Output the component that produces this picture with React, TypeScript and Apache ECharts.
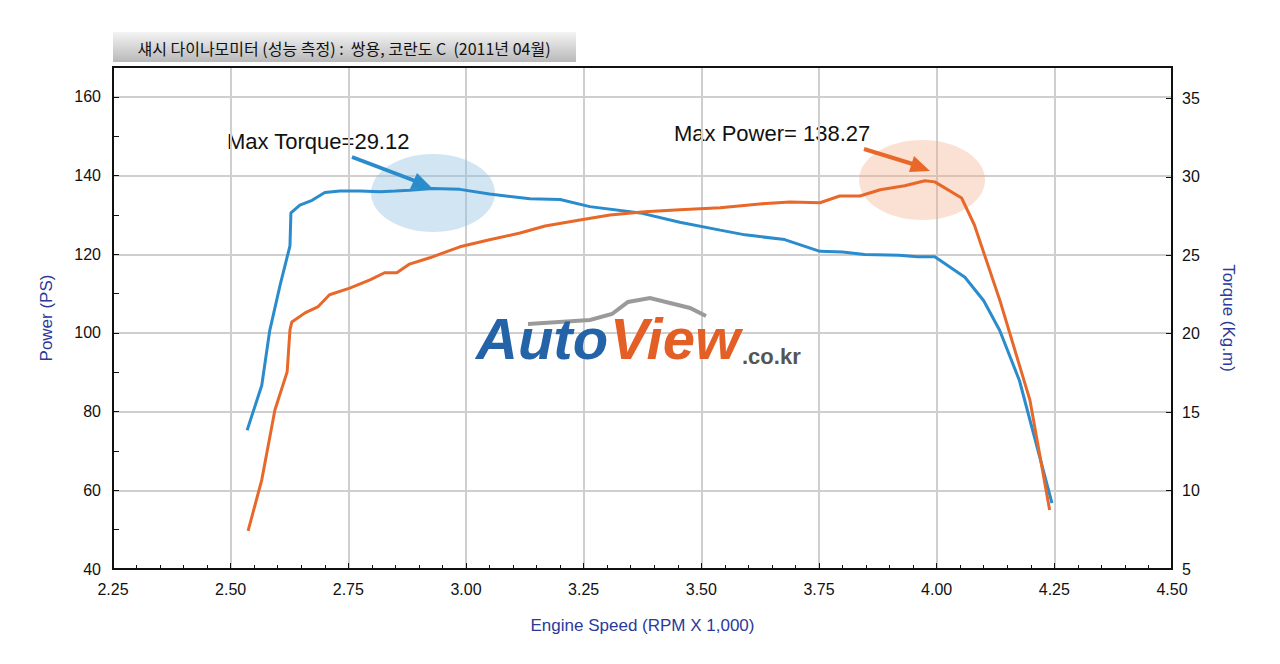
import React, { useEffect, useRef } from "react";
import * as echarts from "echarts";

const torqueRpm = [2.535,2.566,2.583,2.605,2.626,2.628,2.647,2.673,2.70,2.732,2.775,2.817,2.85,2.88,2.928,2.987,3.05,3.136,3.2,3.263,3.37,3.454,3.54,3.593,3.677,3.752,3.80,3.847,3.92,3.96,3.996,4.06,4.10,4.134,4.176,4.245];
const torqueVal = [13.85,16.7,20.2,23.1,25.6,27.7,28.2,28.5,29.0,29.1,29.1,29.05,29.1,29.15,29.25,29.2,28.9,28.6,28.55,28.1,27.7,27.1,26.6,26.3,26.0,25.25,25.2,25.05,25.0,24.9,24.9,23.6,22.1,20.2,17.0,9.2];
const powerRpm = [2.537,2.566,2.594,2.62,2.626,2.63,2.658,2.685,2.71,2.753,2.796,2.827,2.853,2.88,2.923,2.987,3.05,3.115,3.168,3.242,3.306,3.38,3.454,3.54,3.624,3.688,3.752,3.794,3.837,3.88,3.932,3.975,3.996,4.053,4.08,4.134,4.198,4.24];
const powerVal = [49.7,62.6,80.4,90.1,100.8,102.8,105.1,106.6,109.7,111.4,113.5,115.3,115.3,117.5,119.1,121.9,123.7,125.4,127.2,128.7,130.0,130.8,131.3,131.8,132.8,133.3,133.1,134.8,134.8,136.4,137.4,138.7,138.4,134.3,127.5,108.4,83.0,55.0];
const xTicks = [2.25,2.5,2.75,3.0,3.25,3.5,3.75,4.0,4.25,4.5];

const BLUE = "#2a8ccc";
const ORANGE = "#e8682a";
const AXIS_NAME = "#2b3a9a";

export default function App() {
  const ref = useRef<HTMLDivElement>(null);
  useEffect(() => {
    const chart = echarts.init(ref.current!, null, { renderer: "svg" });
    const tickFont = { color: "#111", fontSize: 16, fontFamily: "Liberation Sans Narrow, Liberation Sans, Arial" };
    chart.setOption({
      animation: false,
      backgroundColor: "#ffffff",
      grid: { left: 113, right: 108, top: 67, bottom: 95 },
      xAxis: {
        type: "value", min: 2.25, max: 4.5, interval: 0.25,
        name: "Engine Speed (RPM X 1,000)", nameLocation: "middle", nameGap: 48,
        nameTextStyle: { color: AXIS_NAME, fontSize: 17, fontFamily: "Liberation Sans" },
        axisLine: { lineStyle: { color: "#111", width: 2 } },
        axisTick: { show: true, inside: true, length: 6, lineStyle: { color: "#111" } },
        minorTick: { show: true, splitNumber: 5, length: 4, lineStyle: { color: "#111" } },
        axisLabel: { ...tickFont, margin: 12, formatter: (v: number) => xTicks.includes(+v.toFixed(2)) ? v.toFixed(2) : "" },
        splitLine: { show: true, lineStyle: { color: "#cfcfcf", width: 2 } },
      },
      yAxis: [
        {
          type: "value", min: 40, max: 167.6, interval: 20,
          name: "Power (PS)", nameLocation: "middle", nameGap: 58,
          nameTextStyle: { color: AXIS_NAME, fontSize: 17, fontFamily: "Liberation Sans" },
          axisLine: { show: true, lineStyle: { color: "#111", width: 2 } },
          axisTick: { show: true, inside: true, length: 6, lineStyle: { color: "#111" } },
          minorTick: { show: true, splitNumber: 2, length: 6, lineStyle: { color: "#111" } },
          axisLabel: { ...tickFont, margin: 12, showMaxLabel: false },
          splitLine: { show: true, lineStyle: { color: "#cfcfcf", width: 2 } },
        },
        {
          type: "value", min: 5, max: 37, interval: 5,
          name: "Torque (Kg.m)", nameLocation: "middle", nameGap: 48, nameRotate: -90,
          nameTextStyle: { color: AXIS_NAME, fontSize: 17, fontFamily: "Liberation Sans" },
          axisLine: { show: true, lineStyle: { color: "#111", width: 2 } },
          axisTick: { show: true, inside: true, length: 6, lineStyle: { color: "#111" } },
          axisLabel: { ...tickFont, margin: 10, showMaxLabel: false },
          splitLine: { show: false },
        },
      ],
      series: [
        {
          type: "line", yAxisIndex: 1, showSymbol: false,
          data: torqueRpm.map((r, i) => [r, torqueVal[i]]),
          lineStyle: { color: BLUE, width: 3 }, z: 3,
        },
        {
          type: "line", yAxisIndex: 0, showSymbol: false,
          data: powerRpm.map((r, i) => [r, powerVal[i]]),
          lineStyle: { color: ORANGE, width: 3 }, z: 3,
        },
      ],
      graphic: [
        { type: "rect", shape: { x: 113, y: 67, width: 1059, height: 502 }, style: { fill: "none", stroke: "#111", lineWidth: 2 }, z: 10, silent: true },
        {
          type: "rect", shape: { x: 113, y: 32, width: 463, height: 30 },
          style: { fill: new echarts.graphic.LinearGradient(0, 0, 0, 1, [{ offset: 0, color: "#f4f4f4" }, { offset: 1, color: "#b9b9b9" }]) },
        },
        { type: "text", x: 344, y: 48, style: { text: "섀시 다이나모미터 (성능 측정) :  쌍용, 코란도 C  (2011년 04월)", fill: "#111", fontSize: 16, fontFamily: "Noto Sans CJK KR", align: "center", verticalAlign: "middle" } },
        { type: "ellipse", shape: { cx: 433, cy: 193, rx: 62, ry: 39 }, style: { fill: "rgba(140,190,225,0.4)" }, z: 1 },
        { type: "ellipse", shape: { cx: 922, cy: 180, rx: 63, ry: 40 }, style: { fill: "rgba(240,170,130,0.35)" }, z: 1 },
        { type: "text", x: 227, y: 141, style: { text: "Max Torque=29.12", fill: "#111", fontSize: 22, fontFamily: "Liberation Sans Narrow, Liberation Sans", verticalAlign: "middle" } },
        { type: "text", x: 674, y: 133, style: { text: "Max Power= 138.27", fill: "#111", fontSize: 22, fontFamily: "Liberation Sans Narrow, Liberation Sans", verticalAlign: "middle" } },
        { type: "line", shape: { x1: 352, y1: 157, x2: 418, y2: 182 }, style: { stroke: BLUE, lineWidth: 4 }, z: 5 },
        { type: "polygon", shape: { points: [[432, 188], [410, 189], [417, 173]] }, style: { fill: BLUE }, z: 5 },
        { type: "line", shape: { x1: 864, y1: 149, x2: 916, y2: 165 }, style: { stroke: ORANGE, lineWidth: 4 }, z: 5 },
        { type: "polygon", shape: { points: [[930, 171], [909, 172], [914, 156]] }, style: { fill: ORANGE }, z: 5 },
        {
          type: "polyline", shape: { points: [[528, 324], [590, 320], [612, 314], [628, 302], [650, 298], [690, 308], [706, 316]] },
          style: { stroke: "#9a9a9a", lineWidth: 4, fill: "none" }, z: 2,
        },
        { type: "text", x: 476, y: 367, style: { text: "Auto", fill: "#2463a8", fontSize: 58, fontWeight: "bold", fontStyle: "italic", fontFamily: "Liberation Sans", verticalAlign: "bottom" }, z: 2 },
        { type: "text", x: 610, y: 367, style: { text: "View", fill: "#e35f25", fontSize: 58, fontWeight: "bold", fontStyle: "italic", fontFamily: "Liberation Sans", verticalAlign: "bottom" }, z: 2 },
        { type: "text", x: 742, y: 367, style: { text: ".co.kr", fill: "#555", fontSize: 22, fontWeight: "bold", fontFamily: "Liberation Sans Narrow, Liberation Sans", verticalAlign: "bottom" }, z: 2 },
      ],
    });
    return () => chart.dispose();
  }, []);
  return <div ref={ref} style={{ position: "fixed", left: 0, top: 0, width: 1280, height: 664 }} />;
}
